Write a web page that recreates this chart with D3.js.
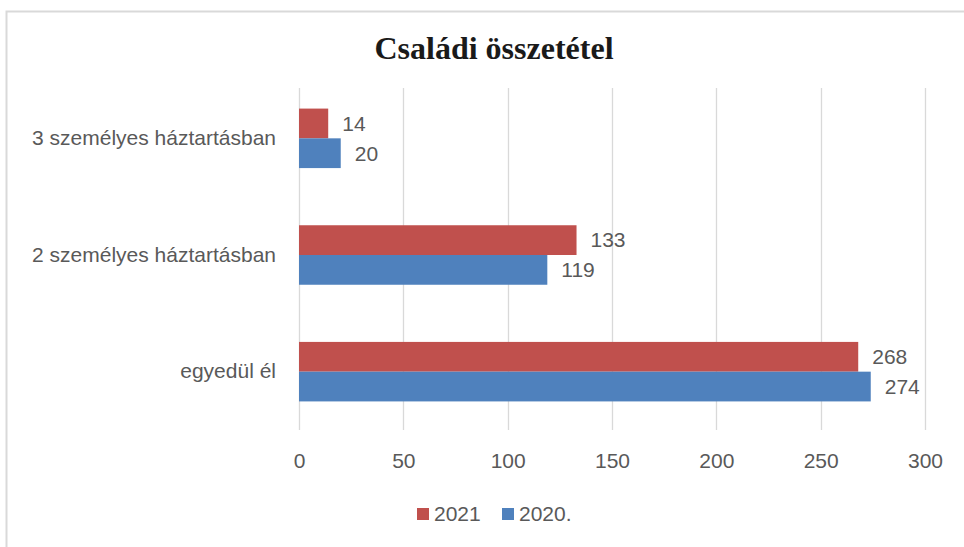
<!DOCTYPE html>
<html>
<head>
<meta charset="utf-8">
<script src="https://cdn.jsdelivr.net/npm/d3@7"></script>
<style>
  body { margin: 0; background: #fff; }
  svg text { font-family: "Liberation Sans", Arial, sans-serif; }
</style>
</head>
<body>
<div id="chart"></div>
<script>
var categories = ['3 személyes háztartásban', '2 személyes háztartásban', 'egyedül él'],
    seriesNames = ['2021', '2020.'],
    values2021 = [14, 133, 268],
    values2020 = [20, 119, 274],
    ticks = [0, 50, 100, 150, 200, 250, 300]

var W = 964, H = 547,
    margins = {top: 80, right: 39, bottom: 117, left: 299},
    colors = {'2021': '#c0504d', '2020.': '#4f81bd', grid: '#d9d9d9', text: '#595959'},
    fontSize = '21px'

var svg = d3.select('#chart').append('svg')
    .attr('width', W)
    .attr('height', H)

// frame
svg.append('path')
    .attr('d', 'M6.5,547 V11.5 H964')
    .attr('fill', 'none')
    .attr('stroke', '#d9d9d9')
    .attr('stroke-width', 2)

var x = d3.scaleLinear()
    .domain([0, 300])
    .range([margins.left, W - margins.right])

var y = d3.scaleBand()
    .domain(categories)
    .range([margins.top, H - margins.bottom])
    .paddingInner(0.49)
    .paddingOuter(0.245)

var y1 = d3.scaleBand()
    .domain(seriesNames)
    .range([0, y.bandwidth()])

// grid
svg.append('g')
    .selectAll('line')
    .data(ticks)
    .join('line')
    .attr('x1', function(d) { return Math.round(x(d)) + 0.5 })
    .attr('x2', function(d) { return Math.round(x(d)) + 0.5 })
    .attr('y1', margins.top + 8)
    .attr('y2', H - margins.bottom)
    .attr('stroke', colors.grid)
    .attr('stroke-width', 1.3)

// x axis labels
var xAxis = d3.axisBottom(x).tickValues(ticks).tickSize(0).tickPadding(23)
var gx = svg.append('g')
    .attr('transform', 'translate(0,' + (H - margins.bottom) + ')')
    .call(xAxis)
gx.select('.domain').remove()
gx.selectAll('text')
    .attr('fill', colors.text)
    .style('font-size', fontSize)

// y axis labels
var yAxis = d3.axisLeft(y).tickSize(0).tickPadding(23)
var gy = svg.append('g')
    .attr('transform', 'translate(' + margins.left + ',0)')
    .call(yAxis)
gy.select('.domain').remove()
gy.selectAll('text')
    .attr('fill', colors.text)
    .style('font-size', fontSize)

var rows = categories.map(function(c, i) {
    return {cat: c, vals: [{s: '2021', v: values2021[i]}, {s: '2020.', v: values2020[i]}]}
})

var groups = svg.append('g')
    .selectAll('g')
    .data(rows)
    .join('g')
    .attr('transform', function(d) { return 'translate(0,' + y(d.cat) + ')' })

groups.selectAll('rect')
    .data(function(d) { return d.vals })
    .join('rect')
    .attr('x', x(0))
    .attr('y', function(d) { return y1(d.s) })
    .attr('width', function(d) { return x(d.v) - x(0) })
    .attr('height', y1.bandwidth())
    .attr('fill', function(d) { return colors[d.s] })

groups.selectAll('text')
    .data(function(d) { return d.vals })
    .join('text')
    .attr('x', function(d) { return x(d.v) + 14 })
    .attr('y', function(d) { return y1(d.s) + y1.bandwidth() / 2 })
    .attr('dy', '0.35em')
    .attr('fill', colors.text)
    .style('font-size', fontSize)
    .text(function(d) { return d.v })

// title
svg.append('text')
    .attr('x', 494)
    .attr('y', 59)
    .attr('text-anchor', 'middle')
    .style('font-family', '"Liberation Serif", "DejaVu Serif", serif')
    .style('font-weight', 'bold')
    .style('font-size', '32px')
    .attr('fill', '#1a1a1a')
    .text('Családi összetétel')

// legend
var legend = svg.append('g')
    .selectAll('g')
    .data(seriesNames)
    .join('g')
    .attr('transform', function(d, i) { return 'translate(' + (417 + i * 85) + ',508)' })

legend.append('rect')
    .attr('width', 12)
    .attr('height', 12)
    .attr('fill', function(d) { return colors[d] })

legend.append('text')
    .attr('x', 17)
    .attr('y', 6)
    .attr('dy', '0.35em')
    .attr('fill', colors.text)
    .style('font-size', fontSize)
    .text(function(d) { return d })
</script>
</body>
</html>
